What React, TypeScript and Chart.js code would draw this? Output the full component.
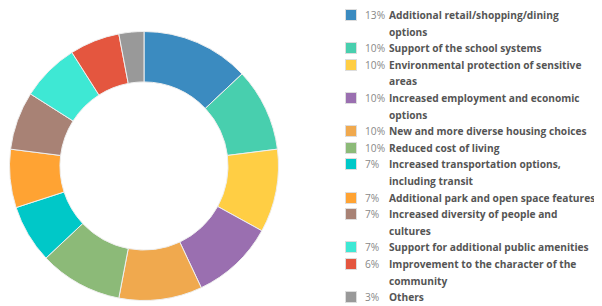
import React, { useEffect, useRef } from "react";
import { Chart, registerables } from "chart.js";
Chart.register(...registerables);

const labels = [
  "Additional retail/shopping/dining\noptions",
  "Support of the school systems",
  "Environmental protection of sensitive\nareas",
  "Increased employment and economic\noptions",
  "New and more diverse housing choices",
  "Reduced cost of living",
  "Increased transportation options,\nincluding transit",
  "Additional park and open space features",
  "Increased diversity of people and\ncultures",
  "Support for additional public amenities",
  "Improvement to the character of the\ncommunity",
  "Others",
];
const values = [13, 10, 10, 10, 10, 10, 7, 7, 7, 7, 6, 3];
const colors = [
  "#3b8bc0", "#48cfae", "#ffce44", "#9a6fb0", "#f0a94e", "#8cba78",
  "#00c8c8", "#ffa333", "#a88275", "#3ee8d4", "#e4563f", "#999999",
];

export default function App() {
  const ref = useRef<HTMLCanvasElement>(null);
  useEffect(() => {
    if (!ref.current) return;
    const chart = new Chart(ref.current, {
      type: "doughnut",
      data: {
        labels: labels.map((l) => l.replace("\n", " ")),
        datasets: [{ data: values, backgroundColor: colors, borderColor: "#eeeeee", borderWidth: 1 }],
      },
      options: {
        animation: false,
        responsive: true,
        maintainAspectRatio: false,
        cutout: "62.5%",
        layout: { padding: { left: 1, right: 1, top: 20, bottom: 2 } },
        plugins: { legend: { display: false }, tooltip: { enabled: false } },
      },
    });
    return () => chart.destroy();
  }, []);
  return (
    <div style={{ position: "relative", width: 586, height: 298, fontFamily: "'Open Sans', sans-serif" }}>
      <div style={{ position: "absolute", left: 0, top: 0, width: 272, height: 298 }}>
        <canvas ref={ref} />
      </div>
      <div style={{ position: "absolute", left: 337, top: -1, width: 257 }}>
        {labels.map((l, i) => (
          <div key={i} style={{ display: "flex", alignItems: "flex-start", fontSize: 10.2, lineHeight: "16.6px" }}>
            <span style={{ width: 10, height: 10, marginTop: 2, background: colors[i], border: "1px solid #ddd", flex: "none" }} />
            <span style={{ width: 24, marginLeft: 8, color: "#888", flex: "none" }}>{values[i]}%</span>
            <span style={{ width: 213, color: "#555", fontWeight: 700, whiteSpace: "pre" }}>{l}</span>
          </div>
        ))}
      </div>
    </div>
  );
}
